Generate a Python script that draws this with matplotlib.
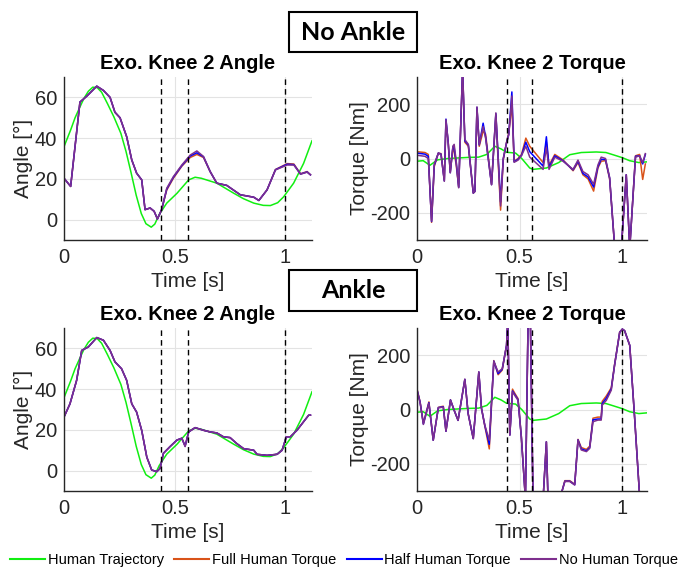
import matplotlib
matplotlib.use("Agg")
from matplotlib import pyplot as plt
from matplotlib.patches import Rectangle
from matplotlib.lines import Line2D

plt.rcParams['font.family'] = ['Liberation Sans', 'DejaVu Sans']
plt.rcParams['axes.unicode_minus'] = False

# human (reference) trajectory, shared by both cases
t_human_angle = [0, 0.03, 0.05, 0.072, 0.09, 0.11, 0.13, 0.15, 0.17, 0.196, 0.225, 0.257,
                 0.28, 0.303, 0.326, 0.349, 0.37, 0.394, 0.41, 0.43, 0.464, 0.51, 0.563,
                 0.592, 0.62, 0.69, 0.766, 0.81, 0.857, 0.9, 0.932, 0.965, 0.992, 1.037,
                 1.082, 1.12]
human_angle = [35.8, 44, 50, 55.3, 59.5, 63, 65, 64.8, 62.5, 57, 50.5, 42.3,
               33.5, 23, 12, 3, -2, -3.7, -2.2, 2.5, 8.1, 12.9, 19.5,
               20.8, 20.3, 17.9, 13, 10.3, 8.1, 7, 6.9, 8.3, 11.2, 17.9,
               27.6, 38.7]
t_human_torque = [0, 0.03, 0.063, 0.1, 0.15, 0.2, 0.25, 0.3, 0.34, 0.379, 0.41, 0.436, 0.48,
                  0.51, 0.549, 0.565, 0.63, 0.69, 0.744, 0.8, 0.873, 0.92, 0.954, 1.0, 1.035,
                  1.08, 1.125]
human_torque = [-10, -8, -25, -5, 0, 2, 4, 5, 15, 45, 35, 23, 20,
                0, -35, -40, -35, -15, 14, 22, 24, 22, 14, 3, -8,
                -15, -12]

# No Ankle - angle
t_na_angle = [0, 0.03, 0.072, 0.102, 0.148, 0.178, 0.208, 0.23, 0.253, 0.283, 0.306, 0.328,
              0.351, 0.366, 0.389, 0.407, 0.422, 0.441, 0.464, 0.494, 0.532, 0.57, 0.6, 0.63,
              0.66, 0.69, 0.735, 0.796, 0.857, 0.88, 0.917, 0.955, 1.008, 1.038, 1.068, 1.098,
              1.113]
na_angle_full = [20.3, 16.3, 57.7, 60.5, 65.5, 63.4, 60, 52.7, 50, 40.7, 29.3, 22.8,
                 19.5, 4.9, 5.7, 4.1, 0.3, 4.9, 14.5, 20.3, 26.2, 30.5, 32.0, 30.5,
                 23.5, 17.9, 16.8, 12.2, 11, 9.4, 14.6, 24.6, 27.5, 27.3, 22.5, 23.6,
                 22]
na_angle_half = [20.3, 16.3, 57.7, 60.5, 65.5, 63.4, 60, 52.7, 50, 40.7, 29.3, 22.8,
                 19.5, 4.9, 5.7, 4.1, 0.3, 4.9, 15.0, 20.8, 26.5, 31.2, 32.8, 30.8,
                 23.6, 17.9, 16.8, 12.2, 11, 9.4, 14.6, 24.5, 27.2, 27.0, 22.4, 23.4,
                 22]
na_angle_none = [20.3, 16.3, 57.7, 60.5, 65.5, 63.4, 60, 52.7, 50, 40.7, 29.3, 22.8,
                 19.5, 4.9, 5.7, 4.1, 0.3, 4.9, 15.4, 21.1, 26.8, 31.7, 33.7, 31,
                 23.7, 17.9, 16.8, 12.2, 11, 9.4, 14.6, 24.4, 26.8, 26.8, 22.3, 23.3,
                 22]

# No Ankle - torque
t_na_torque = [0, 0.039, 0.055, 0.071, 0.084, 0.104, 0.117, 0.133, 0.141, 0.152, 0.162, 0.175,
               0.181, 0.191, 0.203, 0.222, 0.233, 0.25, 0.274, 0.282, 0.292, 0.303, 0.322,
               0.334, 0.363, 0.384, 0.407, 0.42, 0.436, 0.447, 0.462, 0.473, 0.492, 0.509,
               0.53, 0.549, 0.614, 0.63, 0.643, 0.671, 0.711, 0.76, 0.784, 0.808, 0.833, 0.86,
               0.881, 0.897, 0.918, 0.938, 0.963, 0.995, 1.019, 1.036, 1.064, 1.084, 1.099,
               1.112]
na_torque_full = [25, 22, 15, -235, -30, 20, 18, -80, 135, 60, -50, 40,
                  25, -25, -105, 330, 60, 45, -128, -122, 185, 45, 100,
                  90, -95, 160, -190, -5, 60, 95, 200, -10, 0, 15,
                  75, 45, -15, 60, -25, 15, -5, -45, -15, -60, -75, -120,
                  -35, -10, -8, -75, -330, -330, -60, -330, 10, 15, -77,
                  -20]
na_torque_half = [20, 16, 8, -232, -25, 20, 16, -82, 145, 58, -52, 44,
                  40, -15, -106, 330, 65, 50, -127, -121, 188, 50, 130,
                  80, -96, 165, -160, -2, 58, 90, 245, -12, -3, 12,
                  60, 25, -28, 80, -32, 10, -8, -42, -10, -55, -68, -105,
                  -30, -3, -4, -72, -330, -330, -60, -330, 8, 10, -20,
                  15]
na_torque_none = [12, 8, 0, -230, -20, 20, 14, -84, 143, 57, -53, 46,
                  52, -10, -108, 330, 70, 52, -126, -120, 190, 52, 118,
                  75, -97, 168, -175, 0, 57, 87, 230, -14, -6, 11,
                  45, 5, -40, 40, -40, 5, -10, -40, -6, -48, -60, -95,
                  -24, 5, 0, -70, -330, -330, -60, -330, 5, 10, -15,
                  18]

# Ankle - angle
t_a_angle = [0, 0.027, 0.057, 0.08, 0.11, 0.148, 0.178, 0.208, 0.23, 0.26, 0.283, 0.306,
             0.328, 0.351, 0.374, 0.396, 0.419, 0.434, 0.449, 0.479, 0.51, 0.532, 0.547,
             0.563, 0.592, 0.63, 0.66, 0.69, 0.72, 0.75, 0.78, 0.811, 0.857, 0.872, 0.917,
             0.962, 0.985, 1.004, 1.022, 1.052, 1.082, 1.105, 1.113]
a_angle_full = [26.3, 32.8, 44.3, 59, 60.7, 65.3, 64, 59, 53.4, 50, 44.3, 32.8,
                28.7, 19.7, 6.6, 0.3, -0.5, 1.1, 8.5, 11.8, 15, 15.9, 12.2,
                19, 21.1, 19.8, 19, 18.5, 16.6, 16.2, 13.3, 10.8, 10, 8, 7.5,
                8, 10, 16.6, 16.6, 19.8, 24, 27.2, 27.2]
a_angle_half = [26.3, 32.8, 44.3, 59, 60.7, 65.3, 64, 59, 53.4, 50, 44.3, 32.8,
                28.7, 19.7, 6.6, 0.3, -0.5, 1.1, 8.5, 11.8, 15, 15.9, 12.0,
                19, 21.1, 19.8, 19, 18.5, 16.6, 16.2, 13.3, 10.8, 10, 8, 7.5,
                8, 10, 16.6, 16.6, 19.8, 24, 27.2, 27.2]
a_angle_none = [26.3, 32.8, 44.3, 59, 60.7, 65.3, 64, 59, 53.4, 50, 44.3, 32.8,
                28.7, 19.7, 6.6, 0.3, -0.5, 1.1, 8.5, 11.8, 15, 15.9, 11.8,
                19, 21.1, 19.8, 19, 18.5, 16.6, 16.2, 13.3, 10.8, 10, 8, 7.5,
                8, 10, 16.6, 16.6, 19.8, 24, 27.2, 27.2]

# Ankle - torque
t_a_torque = [0, 0.015, 0.031, 0.058, 0.079, 0.104, 0.128, 0.141, 0.163, 0.181, 0.2, 0.233,
              0.249, 0.274, 0.301, 0.314, 0.33, 0.352, 0.374, 0.395, 0.415, 0.436, 0.442,
              0.452, 0.465, 0.476, 0.492, 0.508, 0.528, 0.541, 0.552, 0.565, 0.614, 0.63,
              0.638, 0.695, 0.72, 0.744, 0.768, 0.784, 0.8, 0.825, 0.841, 0.857, 0.881,
              0.897, 0.902, 0.922, 0.946, 0.962, 0.987, 1.0, 1.011, 1.036, 1.06, 1.085,
              1.125]
a_torque_full = [76, 28, -50, 28, -113, 8, 12, -80, 36, -3, -40, 111,
                 -15, -107, 138, 4, -60, -145, 180, 128, 145, 236, 330,
                 -94, 75, 60, 40, -100, -330, 330, 330, -330, -330, -119,
                 -330, -330, -262, -262, -275, -110, -140, -147, -135, -32, -28,
                 -28, 30, 50, 80, 165, 285, 296, 290, 236, -33, -330,
                 -330]
a_torque_half = [73, 27, -53, 25, -113, 7, 10, -80, 35, -3, -40, 111,
                 -15, -107, 138, 4, -58, -128, 178, 132, 148, 236, 330,
                 -94, 68, 55, 36, -100, -330, 330, 330, -330, -330, -119,
                 -330, -330, -264, -264, -277, -112, -145, -152, -140, -38, -35,
                 -35, 22, 42, 76, 163, 284, 296, 290, 236, -33, -330,
                 -330]
a_torque_none = [71, 26, -55, 23, -113, 6, 9, -80, 34, -3, -40, 111,
                 -15, -107, 138, 4, -57, -113, 177, 138, 150, 236, 330,
                 -94, 65, 52, 34, -100, -330, 330, 330, -330, -330, -119,
                 -330, -330, -265, -265, -278, -113, -149, -155, -143, -45, -39,
                 -39, 16, 34, 71, 162, 284, 296, 290, 236, -33, -330,
                 -330]

events = [0.44, 0.56, 1.0]
labels = ['Human Trajectory', 'Full Human Torque', 'Half Human Torque', 'No Human Torque']
colors = ['#11ee11', '#d95319', '#0000ff', '#7e2f8e']
txt = '#262626'

W, H = 681, 569
fig = plt.figure(figsize=(W / 100, H / 100), dpi=100)


def px_axes(left, top, right, bottom):
    return fig.add_axes([left / W, 1 - bottom / H, (right - left) / W, (bottom - top) / H])


def panel(ax, t_h, human, t, full, half, none, ylim, yticks, ylabel, title):
    ax.plot(t_h, human, color=colors[0], lw=1.1)
    ax.plot(t, full, color=colors[1], lw=1.1)
    ax.plot(t, half, color=colors[2], lw=1.1)
    ax.plot(t, none, color=colors[3], lw=1.1)
    for e in events:
        ax.axvline(e, color='k', ls=(0, (4, 3)), lw=1.0)
    ax.set_xlim(0, 1.12)
    ax.set_ylim(*ylim)
    ax.set_xticks([0, 0.5, 1])
    ax.set_xticklabels(['0', '0.5', '1'])
    ax.set_yticks(yticks)
    ax.grid(True, color='#e3e3e3', lw=0.8)
    ax.set_axisbelow(True)
    for s in ['top', 'right']:
        ax.spines[s].set_visible(False)
    for s in ['left', 'bottom']:
        ax.spines[s].set_color(txt)
        ax.spines[s].set_linewidth(1.0)
    ax.tick_params(direction='in', length=0, labelsize=14.5, colors=txt)
    ax.tick_params(axis='x', pad=6)
    ax.tick_params(axis='y', pad=5)
    ax.set_xlabel('Time [s]', fontsize=15, color=txt, labelpad=3)
    ax.set_ylabel(ylabel, fontsize=15, color=txt, labelpad=1)
    ax.set_title(title, fontsize=14.5, fontweight='bold', pad=6)


ax1 = px_axes(64, 77, 312, 240)
panel(ax1, t_human_angle, human_angle, t_na_angle, na_angle_full, na_angle_half, na_angle_none,
      (-10, 70), [0, 20, 40, 60], 'Angle [°]', 'Exo. Knee 2 Angle')

ax2 = px_axes(417, 77, 647, 240)
panel(ax2, t_human_torque, human_torque, t_na_torque, na_torque_full, na_torque_half, na_torque_none,
      (-300, 300), [-200, 0, 200], 'Torque [Nm]', 'Exo. Knee 2 Torque')

ax3 = px_axes(64, 328, 312, 491)
panel(ax3, t_human_angle, human_angle, t_a_angle, a_angle_full, a_angle_half, a_angle_none,
      (-10, 70), [0, 20, 40, 60], 'Angle [°]', 'Exo. Knee 2 Angle')

ax4 = px_axes(417, 328, 647, 491)
panel(ax4, t_human_torque, human_torque, t_a_torque, a_torque_full, a_torque_half, a_torque_none,
      (-300, 300), [-200, 0, 200], 'Torque [Nm]', 'Exo. Knee 2 Torque')

# boxed case headings
for name, top, bottom in [('No Ankle', 12, 52), ('Ankle', 270, 311)]:
    fig.patches.append(Rectangle((289 / W, 1 - bottom / H), 128 / W, (bottom - top) / H,
                                 transform=fig.transFigure, fill=False, lw=1.5, ec='k'))
    fig.text(353 / W, 1 - (top + bottom) / 2 / H, name, ha='center', va='center',
             fontsize=18, fontweight='bold', family=['Lato', 'DejaVu Sans'])

handles = [Line2D([], [], color=c, lw=1.5) for c in colors]
fig.legend(handles, labels, loc='center', bbox_to_anchor=(344 / W, 1 - 560 / H), ncol=4,
           frameon=False, handlelength=2.4, handletextpad=0.2, columnspacing=0.7,
           prop={'size': 10.5})

fig.savefig('out.png', dpi=100)
